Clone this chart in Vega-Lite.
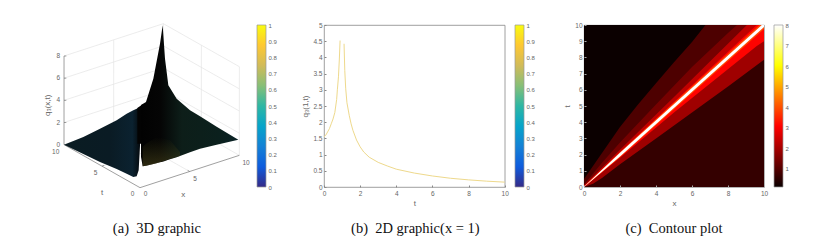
{
"$schema":"https://vega.github.io/schema/vega-lite/v6.json",
"background":"white",
"padding":{"left":0,"top":21,"right":0,"bottom":0},
"bounds":"flush",
"spacing":0,
"config":{"view":{"stroke":null},
 "axis":{"labelFont":"Liberation Sans","labelFontSize":6.5,"labelColor":"#666","titleFont":"Liberation Sans","titleFontSize":8,"titleFontWeight":"normal","titleColor":"#666","domainColor":"#888","tickColor":"#888","grid":false,"labelFlush":false,"labelOverlap":false},
 "title":{"font":"Liberation Serif","fontSize":14.5,"fontWeight":"normal","color":"#111"}},
"datasets":{
 "unit":[{"lo":0,"hi":1}],
 "hotunit":[{"lo":0.1,"hi":8}],
 "none":[],
 "grid":[
  {"s":"a","u":192,"v":433},{"s":"a","u":490,"v":336},
  {"s":"b","u":490,"v":336},{"s":"b","u":718,"v":465},
  {"s":"c","u":192,"v":366.5},{"s":"c","u":490,"v":269.5},
  {"s":"d","u":192,"v":300},{"s":"d","u":490,"v":203},
  {"s":"e","u":192,"v":233.5},{"s":"e","u":490,"v":136.5},
  {"s":"f","u":192,"v":167},{"s":"f","u":490,"v":70},
  {"s":"g","u":490,"v":269.5},{"s":"g","u":718,"v":398.5},
  {"s":"h","u":490,"v":203},{"s":"h","u":718,"v":332},
  {"s":"i","u":490,"v":136.5},{"s":"i","u":718,"v":265.5},
  {"s":"j","u":490,"v":70},{"s":"j","u":718,"v":199},
  {"s":"k","u":490,"v":336},{"s":"k","u":490.1,"v":70},
  {"s":"l","u":718,"v":465},{"s":"l","u":718.1,"v":199},
  {"s":"m","u":341,"v":384.5},{"s":"m","u":341.1,"v":118.5},
  {"s":"n","u":604,"v":400.5},{"s":"n","u":604.1,"v":134.5},
  {"s":"o","u":341,"v":384.5},{"s":"o","u":569,"v":513.5},
  {"s":"p","u":306,"v":497.5},{"s":"p","u":604,"v":400.5}
 ],
 "axes3d":[
  {"s":"z","u":192,"v":433},{"s":"z","u":192.1,"v":167},
  {"s":"t","u":192,"v":433},{"s":"t","u":420,"v":562},
  {"s":"x","u":420,"v":562},{"s":"x","u":718,"v":465},
  {"s":"z8","u":192,"v":167},{"s":"z8","u":199,"v":167},
  {"s":"z6","u":192,"v":233.5},{"s":"z6","u":199,"v":233.5},
  {"s":"z4","u":192,"v":300},{"s":"z4","u":199,"v":300},
  {"s":"z2","u":192,"v":366.5},{"s":"z2","u":199,"v":366.5},
  {"s":"t5","u":306,"v":497.5},{"s":"t5","u":313,"v":495},
  {"s":"x5","u":569,"v":513.5},{"s":"x5","u":563,"v":510}
 ],
 "ticks3d":[
  {"u":175,"v":166,"label":"8"},{"u":175,"v":233,"label":"6"},{"u":175,"v":300,"label":"4"},{"u":175,"v":367,"label":"2"},{"u":175,"v":433,"label":"0"},
  {"u":167,"v":455,"label":"10"},{"u":287,"v":517,"label":"5"},{"u":398,"v":580,"label":"0"},
  {"u":437,"v":582,"label":"0"},{"u":585,"v":535,"label":"5"},{"u":738,"v":487,"label":"10"}
 ],
 "titles3d":[{"u":306,"v":578,"label":"t"},{"u":550,"v":585,"label":"x"}],
 "ztitle":[{"u":143,"v":315,"label":"q₃(x,t)"}],
 "left":[
  {"u":192,"v":433,"v2":433},{"u":250,"v":410,"v2":461},{"u":300,"v":385,"v2":485},{"u":350,"v":360,"v2":506},{"u":380,"v":340,"v2":520},{"u":400,"v":330,"v2":530},{"u":410,"v":325,"v2":528},{"u":416,"v":322,"v2":510},{"u":420,"v":320,"v2":436}
 ],
 "neck":[{"u":412,"v":323,"v2":430},{"u":428,"v":312,"v2":430}],
 "right":[
  {"u":423,"v":314,"v2":470},{"u":428,"v":311,"v2":498},{"u":438,"v":305,"v2":496},{"u":460,"v":235,"v2":491},{"u":480,"v":130,"v2":486},{"u":488,"v":75,"v2":484},{"u":495,"v":175,"v2":482},{"u":505,"v":255,"v2":478},{"u":530,"v":295,"v2":471},{"u":570,"v":330,"v2":456},{"u":600,"v":348,"v2":445},{"u":650,"v":379,"v2":433},{"u":715,"v":418,"v2":418}
 ],
 "olive":[{"u":428,"v":440,"v2":498},{"u":438,"v":430,"v2":496},{"u":470,"v":410,"v2":489},{"u":510,"v":420,"v2":476},{"u":540,"v":455,"v2":467}],
 "curve":[
  {"b":"l","t":0,"q":1.55},{"b":"l","t":0.1,"q":1.6},{"b":"l","t":0.2,"q":1.7},{"b":"l","t":0.3,"q":1.8},{"b":"l","t":0.4,"q":1.95},{"b":"l","t":0.5,"q":2.1},{"b":"l","t":0.6,"q":2.3},{"b":"l","t":0.7,"q":2.7},{"b":"l","t":0.74,"q":3},{"b":"l","t":0.8,"q":3.4},{"b":"l","t":0.85,"q":3.95},{"b":"l","t":0.89,"q":4.52},
  {"b":"r","t":1.11,"q":4.42},{"b":"r","t":1.15,"q":3.6},{"b":"r","t":1.2,"q":3.05},{"b":"r","t":1.27,"q":2.6},{"b":"r","t":1.4,"q":2.2},{"b":"r","t":1.5,"q":1.95},{"b":"r","t":1.6,"q":1.75},{"b":"r","t":1.8,"q":1.45},{"b":"r","t":2,"q":1.24},{"b":"r","t":2.2,"q":1.08},{"b":"r","t":2.5,"q":0.92},{"b":"r","t":3,"q":0.76},{"b":"r","t":3.5,"q":0.65},{"b":"r","t":4,"q":0.55},{"b":"r","t":5,"q":0.43},{"b":"r","t":6,"q":0.34},{"b":"r","t":7,"q":0.27},{"b":"r","t":8,"q":0.22},{"b":"r","t":9,"q":0.18},{"b":"r","t":10,"q":0.15}
 ],
 "bands":[
  {"band":"A","level":0.1,"x":0,"hi":10,"lo":0},{"band":"A","level":0.1,"x":10,"hi":10,"lo":10},
  {"band":"B","level":0.6,"x":0,"hi":0,"lo":0},{"band":"B","level":0.6,"x":10,"hi":10,"lo":0},
  {"band":"C","level":0.9,"x":0,"hi":0.5,"lo":0},{"band":"C","level":0.9,"x":0.5,"hi":1.3,"lo":0.5},{"band":"C","level":0.9,"x":1,"hi":2.1,"lo":1},{"band":"C","level":0.9,"x":2,"hi":3.7,"lo":2},{"band":"C","level":0.9,"x":3,"hi":5.1,"lo":3},{"band":"C","level":0.9,"x":4,"hi":6.4,"lo":4},{"band":"C","level":0.9,"x":5,"hi":7.7,"lo":5},{"band":"C","level":0.9,"x":6,"hi":8.95,"lo":6},{"band":"C","level":0.9,"x":6.75,"hi":10,"lo":6.75},{"band":"C","level":0.9,"x":10,"hi":10,"lo":10},
  {"band":"D","level":1.4,"x":0,"hi":0.15,"lo":0},{"band":"D","level":1.4,"x":1,"hi":1.5,"lo":1},{"band":"D","level":1.4,"x":2,"hi":2.75,"lo":2},{"band":"D","level":1.4,"x":4,"hi":5.1,"lo":4},{"band":"D","level":1.4,"x":6,"hi":7.4,"lo":6},{"band":"D","level":1.4,"x":8,"hi":9.5,"lo":8},{"band":"D","level":1.4,"x":8.5,"hi":10,"lo":8.5},{"band":"D","level":1.4,"x":10,"hi":10,"lo":10},
  {"band":"E","level":1.9,"x":0,"hi":0,"lo":0},{"band":"E","level":1.9,"x":0.5,"hi":0.5,"lo":0.2},{"band":"E","level":1.9,"x":1,"hi":1,"lo":0.55},{"band":"E","level":1.9,"x":2,"hi":2,"lo":1.4},{"band":"E","level":1.9,"x":4,"hi":4,"lo":3},{"band":"E","level":1.9,"x":6,"hi":6,"lo":4.6},{"band":"E","level":1.9,"x":8,"hi":8,"lo":6.2},{"band":"E","level":1.9,"x":10,"hi":10,"lo":7.86},
  {"band":"F","level":2.3,"x":0,"hi":0.1,"lo":0},{"band":"F","level":2.3,"x":2,"hi":2.3,"lo":2},{"band":"F","level":2.3,"x":5,"hi":5.55,"lo":5},{"band":"F","level":2.3,"x":9.05,"hi":10,"lo":9.05},{"band":"F","level":2.3,"x":10,"hi":10,"lo":10},
  {"band":"G","level":3.1,"x":0,"hi":0.03,"lo":0},{"band":"G","level":3.1,"x":2,"hi":2.14,"lo":1.8},{"band":"G","level":3.1,"x":5,"hi":5.25,"lo":4.6},{"band":"G","level":3.1,"x":9.6,"hi":10,"lo":8.7},{"band":"G","level":3.1,"x":10,"hi":10,"lo":9},
  {"band":"H","level":3.9,"x":0,"hi":0.02,"lo":0},{"band":"H","level":3.9,"x":2,"hi":2.15,"lo":1.85},{"band":"H","level":3.9,"x":5,"hi":5.2,"lo":4.8},{"band":"H","level":3.9,"x":9.75,"hi":10,"lo":9.5},{"band":"H","level":3.9,"x":10,"hi":10,"lo":9.75},
  {"band":"J","level":8,"x":0,"hi":0.02,"lo":0},{"band":"J","level":8,"x":2,"hi":2.12,"lo":1.88},{"band":"J","level":8,"x":9.88,"hi":10,"lo":9.76},{"band":"J","level":8,"x":10,"hi":10,"lo":9.88}
 ]
},
"hconcat":[
   {"width":256.7,"height":180,
    "title":{"text":"(a)\u00a0\u00a03D graphic","orient":"bottom","anchor":"middle","dx":28.6,"offset":17},
    "encoding":{
     "x":{"field":"u","type":"quantitative","scale":{"domain":[0,770.1],"nice":false,"zero":false},"axis":null},
     "y":{"field":"v","type":"quantitative","scale":{"domain":[74,614],"nice":false,"zero":false,"reverse":true},"axis":null}},
    "layer":[
     {"data":{"name":"grid"},"mark":{"type":"line","stroke":"#e4e4e4","strokeWidth":0.7,"clip":false},"encoding":{"detail":{"field":"s"}}},
     {"data":{"name":"axes3d"},"mark":{"type":"line","stroke":"#777","strokeWidth":0.7,"clip":false},"encoding":{"detail":{"field":"s"}}},
     {"data":{"name":"left"},"mark":{"type":"area","orient":"vertical","opacity":1,"fill":{"gradient":"linear","x1":0,"y1":0,"x2":1,"y2":0,"stops":[{"offset":0,"color":"#0a1c22"},{"offset":0.6,"color":"#0a1b24"},{"offset":0.9,"color":"#0b2230"},{"offset":1,"color":"#050a0e"}]}},"encoding":{"y2":{"field":"v2"}}},
     {"data":{"name":"neck"},"mark":{"type":"area","orient":"vertical","opacity":1,"fill":"#030303"},"encoding":{"y2":{"field":"v2"}}},
     {"data":{"name":"right"},"mark":{"type":"area","orient":"vertical","opacity":1,"fill":{"gradient":"linear","x1":0,"y1":0,"x2":1,"y2":0,"stops":[{"offset":0,"color":"#020202"},{"offset":0.2,"color":"#050505"},{"offset":0.42,"color":"#0d1e19"},{"offset":0.8,"color":"#0b201d"},{"offset":1,"color":"#0a2226"}]}},"encoding":{"y2":{"field":"v2"}}},
     {"data":{"name":"olive"},"mark":{"type":"area","orient":"vertical","opacity":0.8,"fill":{"gradient":"linear","x1":0,"y1":0,"x2":0,"y2":1,"stops":[{"offset":0,"color":"rgba(60,60,20,0)"},{"offset":1,"color":"rgba(70,64,24,0.8)"}]}},"encoding":{"y2":{"field":"v2"}}},
     {"data":{"name":"ticks3d"},"mark":{"type":"text","font":"Liberation Sans","fontSize":6.5,"fill":"#666","align":"center","baseline":"middle"},"encoding":{"text":{"field":"label"}}},
     {"data":{"name":"titles3d"},"mark":{"type":"text","font":"Liberation Sans","fontSize":8,"fill":"#666","align":"center","baseline":"middle"},"encoding":{"text":{"field":"label"}}},
     {"data":{"name":"ztitle"},"mark":{"type":"text","font":"Liberation Sans","fontSize":8,"fill":"#666","align":"center","baseline":"middle","angle":270},"encoding":{"text":{"field":"label"}}}
    ]},
   {"width":9,"height":162,"data":{"name":"unit"},
    "mark":{"type":"rect","stroke":"#999","strokeWidth":0.7,"fill":{"gradient":"linear","x1":0,"y1":1,"x2":0,"y2":0,"stops":[{"offset":0,"color":"#352a87"},{"offset":0.125,"color":"#0f5cdd"},{"offset":0.25,"color":"#1481d6"},{"offset":0.375,"color":"#06a4ca"},{"offset":0.5,"color":"#2eb7a4"},{"offset":0.625,"color":"#87bf77"},{"offset":0.75,"color":"#d1bb59"},{"offset":0.875,"color":"#fec832"},{"offset":1,"color":"#f9fb0e"}]}},
    "encoding":{"y":{"field":"lo","type":"quantitative","scale":{"domain":[0,1],"nice":false},"title":null,"axis":{"orient":"right","values":[0,0.1,0.2,0.3,0.4,0.5,0.6,0.7,0.8,0.9,1],"format":"~g","domain":false,"ticks":false,"labelPadding":2,"labelFontSize":6}},"y2":{"field":"hi"}}},
   {"width":57.6,"height":10,"data":{"name":"none"},"mark":"point"},
   {"width":180.7,"height":162,"data":{"name":"curve"},
    "title":{"text":"(b)\u00a0\u00a02D graphic(x = 1)","orient":"bottom","anchor":"middle","dx":1,"offset":14},
    "view":{"stroke":"#888","strokeWidth":0.8},
    "mark":{"type":"line","stroke":"#eed98c","strokeWidth":1},
    "encoding":{
     "x":{"field":"t","type":"quantitative","scale":{"domain":[0,10],"nice":false},"title":"t","axis":{"values":[0,2,4,6,8,10],"tickSize":-2,"domain":false,"labelPadding":5,"titlePadding":3}},
     "y":{"field":"q","type":"quantitative","scale":{"domain":[0,5],"nice":false},"title":"q₃(1,t)","axis":{"values":[0,0.5,1,1.5,2,2.5,3,3.5,4,4.5,5],"format":"~g","tickSize":-2,"domain":false,"labelPadding":4,"titlePadding":3}},
     "detail":{"field":"b"}}},
   {"width":9.3,"height":10,"data":{"name":"none"},"mark":"point"},
   {"width":9,"height":162,"data":{"name":"unit"},
    "mark":{"type":"rect","stroke":"#999","strokeWidth":0.7,"fill":{"gradient":"linear","x1":0,"y1":1,"x2":0,"y2":0,"stops":[{"offset":0,"color":"#352a87"},{"offset":0.125,"color":"#0f5cdd"},{"offset":0.25,"color":"#1481d6"},{"offset":0.375,"color":"#06a4ca"},{"offset":0.5,"color":"#2eb7a4"},{"offset":0.625,"color":"#87bf77"},{"offset":0.75,"color":"#d1bb59"},{"offset":0.875,"color":"#fec832"},{"offset":1,"color":"#f9fb0e"}]}},
    "encoding":{"y":{"field":"lo","type":"quantitative","scale":{"domain":[0,1],"nice":false},"title":null,"axis":{"orient":"right","values":[0,0.1,0.2,0.3,0.4,0.5,0.6,0.7,0.8,0.9,1],"format":"~g","domain":false,"ticks":false,"labelPadding":2,"labelFontSize":6}},"y2":{"field":"hi"}}},
   {"width":60,"height":10,"data":{"name":"none"},"mark":"point"},
   {"width":180,"height":162,"data":{"name":"bands"},
   "title":{"text":"(c)\u00a0\u00a0Contour plot","orient":"bottom","anchor":"middle","dx":0,"offset":14},
   "view":{"stroke":"#888","strokeWidth":0.8},
   "mark":{"type":"area","orient":"vertical","opacity":1},
   "encoding":{
    "x":{"field":"x","type":"quantitative","scale":{"domain":[0,10],"nice":false},"title":"x","axis":{"values":[0,2,4,6,8,10],"tickSize":-2,"tickColor":"#aaa","domain":false,"labelPadding":5,"titlePadding":3,"zindex":1}},
    "y":{"field":"hi","type":"quantitative","scale":{"domain":[0,10],"nice":false},"title":"t","axis":{"values":[0,1,2,3,4,5,6,7,8,9,10],"tickSize":-2,"tickColor":"#aaa","domain":false,"labelPadding":4,"titlePadding":3,"zindex":1}},
    "y2":{"field":"lo"},
    "detail":{"field":"band"},
    "color":{"field":"level","type":"quantitative","legend":null,"scale":{"domain":[0.1,3.06,6.03,8],"range":["#0b0000","#ff0000","#ffff00","#ffffff"],"interpolate":"rgb"}}}},
   {"width":9.4,"height":10,"data":{"name":"none"},"mark":"point"},
   {"width":9,"height":162,"data":{"name":"hotunit"},
   "mark":{"type":"rect","stroke":"#999","strokeWidth":0.7,"fill":{"gradient":"linear","x1":0,"y1":1,"x2":0,"y2":0,"stops":[{"offset":0,"color":"#0b0000"},{"offset":0.375,"color":"#ff0000"},{"offset":0.75,"color":"#ffff00"},{"offset":1,"color":"#ffffff"}]}},
   "encoding":{"y":{"field":"lo","type":"quantitative","scale":{"domain":[0.1,8],"nice":false,"zero":false},"title":null,"axis":{"orient":"right","values":[1,2,3,4,5,6,7,8],"domain":false,"ticks":false,"labelPadding":2,"labelFontSize":6}},"y2":{"field":"hi"}}}
]}
